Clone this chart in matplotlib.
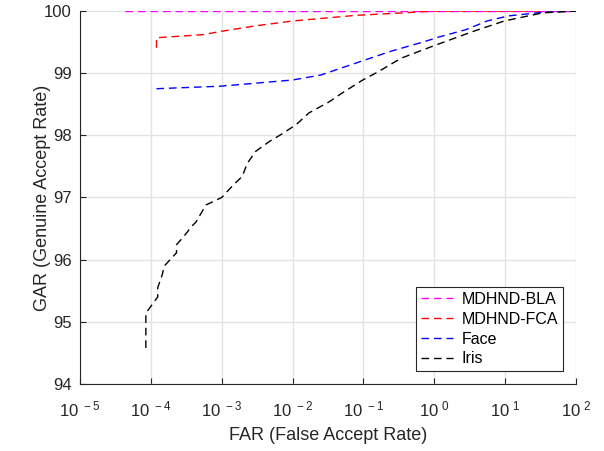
import matplotlib
matplotlib.use('Agg')
import matplotlib.pyplot as plt

plt.rcParams['font.family'] = ['Liberation Sans', 'DejaVu Sans']
plt.rcParams['mathtext.default'] = 'regular'

# MDHND-BLA
blaX = [4.3e-5, 100]
blaY = [100, 100]

# MDHND-FCA
fcaX = [1.2e-4, 1.2e-4, 5.5e-4, 9.5e-4, 2.95e-3, 1.02e-2, 7.8e-2, 0.37, 1.02, 100]
fcaY = [99.41, 99.57, 99.62, 99.67, 99.76, 99.84, 99.93, 99.97, 100, 100]

# Face
faceX = [1.2e-4, 9.5e-4, 1e-2, 0.025, 0.087, 0.24, 0.74, 1.15, 2.8, 5.6, 11, 34, 100]
faceY = [98.75, 98.79, 98.89, 98.97, 99.18, 99.35, 99.51, 99.58, 99.70, 99.84, 99.92, 99.98, 100]

# Iris
irisX = [8.5e-5, 8.5e-5, 1.03e-4, 1.25e-4, 1.25e-4, 1.45e-4, 1.55e-4, 2.3e-4, 2.3e-4,
         2.8e-4, 3.3e-4, 3.7e-4, 4.3e-4, 6.0e-4, 1.0e-3, 1.4e-3, 1.95e-3, 2.3e-3,
         3.0e-3, 4.7e-3, 6.8e-3, 1.12e-2, 1.7e-2, 3.3e-2, 5.0e-2, 9.8e-2, 0.166,
         0.34, 0.93, 3.5, 9.8, 34, 100]
irisY = [94.58, 95.14, 95.27, 95.40, 95.55, 95.76, 95.90, 96.11, 96.24,
         96.35, 96.45, 96.53, 96.60, 96.88, 97.00, 97.18, 97.34, 97.55,
         97.74, 97.90, 98.01, 98.17, 98.36, 98.54, 98.68, 98.89, 99.03,
         99.24, 99.43, 99.67, 99.84, 99.97, 100]

labels = ['MDHND-BLA', 'MDHND-FCA', 'Face', 'Iris']

fig = plt.figure(figsize=(6.04, 4.51), dpi=100)
ax = fig.add_axes([0.1325, 0.1486, 0.821, 0.827])

dash = (5.5, 3.5)
ax.plot(blaX, blaY, color='#ff00ff', lw=1, dashes=dash, label=labels[0])
ax.plot(fcaX, fcaY, color='#ff0000', lw=1, dashes=dash, label=labels[1])
ax.plot(faceX, faceY, color='#0000ff', lw=1, dashes=dash, label=labels[2])
ax.plot(irisX, irisY, color='#000000', lw=1, dashes=dash, label=labels[3])

ax.set_xscale('log')
ax.set_xlim(1e-5, 1e2)
ax.set_ylim(94, 100)
ax.set_xticks([10.0**k for k in range(-5, 3)])
ax.set_xticklabels(['$10^{\\ %d}$' % k for k in range(-5, 3)])
ax.minorticks_off()
ax.set_yticks(range(94, 101))

ax.grid(True, color='#e3e3e3', lw=1)
ax.set_axisbelow(True)
for s in ['top', 'right']:
    ax.spines[s].set_visible(False)
for s in ['left', 'bottom']:
    ax.spines[s].set_color('#262626')
ax.tick_params(direction='in', length=4, labelsize=12, colors='#262626', pad=6)
ax.tick_params(axis='x', pad=11)

ax.set_xlabel('FAR (False Accept Rate)', fontsize=13, color='#262626', labelpad=6)
ax.set_ylabel('GAR (Genuine Accept Rate)', fontsize=13, color='#262626', labelpad=-5)

leg = ax.legend(loc='lower right', fontsize=11.5, fancybox=False, framealpha=1,
                edgecolor='#262626', handlelength=2.0, handletextpad=0.55,
                borderpad=0.3, labelspacing=0.3, borderaxespad=0.8)
leg.get_frame().set_linewidth(0.8)

plt.savefig('out.png', dpi=100)
plt.close()
